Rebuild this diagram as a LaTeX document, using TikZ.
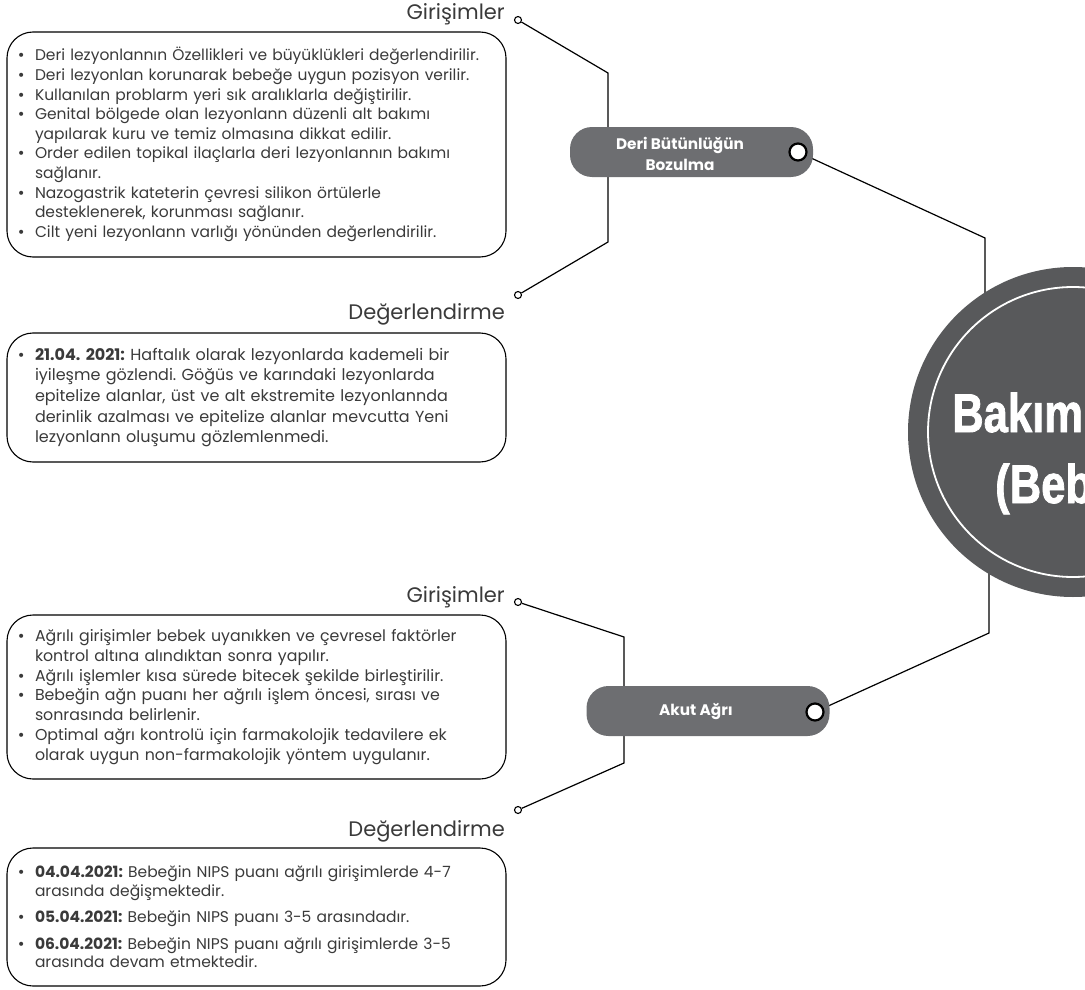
\documentclass[tikz,border=0pt]{standalone}
\usepackage{fontspec}
\usepackage{graphicx}
\setmainfont{Poppins}
\newfontface\heavyfont{Liberation Sans Bold}[FakeBold=1.6]
\newfontfamily\dejavu{DejaVu Sans}
\usetikzlibrary{backgrounds}
\definecolor{boxgray}{HTML}{6D6E71}
\definecolor{maingray}{HTML}{58595B}
\definecolor{txt}{HTML}{3A3A3A}
\newcommand{\bl}{\makebox[18pt][l]{\hspace*{0pt}\raisebox{0pt}{\dejavu\fontsize{14}{14}\selectfont •}}}
\newcommand{\cl}{\hspace*{18pt}}
\frenchspacing
\begin{document}
\begin{tikzpicture}[x=1pt,y=-1pt,
  notebox/.style={draw=black, line width=1.1pt, rounded corners=26pt, inner xsep=10pt, inner ysep=0pt,
    text width=479pt, minimum width=499pt, align=left, text=txt,
    font=\fontsize{15.5}{19.6}\selectfont},
  label/.style={text=txt, inner sep=0pt, font=\fontsize{21}{24}\selectfont},
  topic/.style={fill=boxgray, rounded corners=22pt, minimum width=243pt, minimum height=50pt, inner sep=0pt},
  topictext/.style={text=white, align=center, inner sep=0pt, font=\bfseries\fontsize{15.3}{21}\selectfont},
  bigdot/.style={circle, fill=white, draw=black, line width=2.2pt, minimum size=17pt, inner sep=0pt},
  smalldot/.style={circle, fill=white, draw=black, line width=1.1pt, minimum size=7pt, inner sep=0pt},
  conn/.style={draw=black, line width=1.2pt},
  maintext/.style={text=white, inner sep=0pt, anchor=base west}
]
\useasboundingbox (0,0) rectangle (1085,990);
\clip (0,0) rectangle (1085,990);

% central circle
\node[circle, fill=maingray, minimum size=330pt, inner sep=0pt] (main) at (1073,432) {};
\draw[white, line width=1.8pt] (main.center) circle (145pt);
\node[maintext] (t1) at (952,432) {\scalebox{0.8}[1]{\heavyfont\fontsize{54.5}{60}\selectfont Bakım}};
\node[maintext] (t2) at (995,503) {\scalebox{0.8}[1]{\heavyfont\fontsize{54.5}{60}\selectfont (Beb}};

% topic boxes
\node[topic] (deri) at (691.5,152) {};
\node[topictext] (deritext) at (680,154) {Deri Bütünlüğün\\Bozulma};
\node[bigdot] (derid) at (798,152) {};
\node[topic] (akut) at (708,711) {};
\node[topictext] (akuttext) at (696,712) {Akut Ağrı};
\node[bigdot] (akutd) at (815,712) {};

% labels and small dots
\node[label, anchor=east] (lg1) at (505,14) {Girişimler};
\node[smalldot] (g1) at (518,20) {};
\node[label, anchor=east] (ld1) at (505,314) {Değerlendirme};
\node[smalldot] (d1) at (518,295) {};
\node[label, anchor=east] (lg2) at (505,597) {Girişimler};
\node[smalldot] (g2) at (518,602) {};
\node[label, anchor=east] (ld2) at (505,831) {Değerlendirme};
\node[smalldot] (d2) at (518,810) {};

% note boxes
\node[notebox, minimum height=225pt] (box1) at (256.5,144.5) {%
\bl Deri lezyonlannın Özellikleri ve büyüklükleri değerlendirilir.\\
\bl Deri lezyonlan korunarak bebeğe uygun pozisyon verilir.\\
\bl Kullanılan problarm yeri sık aralıklarla değiştirilir.\\
\bl Genital bölgede olan lezyonlann düzenli alt bakımı\\
\cl yapılarak kuru ve temiz olmasına dikkat edilir.\\
\bl Order edilen topikal ilaçlarla deri lezyonlannın bakımı\\
\cl sağlanır.\\
\bl Nazogastrik kateterin çevresi silikon örtülerle\\
\cl desteklenerek, korunması sağlanır.\\
\bl Cilt yeni lezyonlann varlığı yönünden değerlendirilir.};

\node[notebox, minimum height=129pt, font=\fontsize{16}{20.6}\selectfont] (box2) at (256.5,397.5) {%
\bl \textbf{21.04. 2021:} Haftalık olarak lezyonlarda kademeli bir\\
\cl iyileşme gözlendi. Göğüs ve karındaki lezyonlarda\\
\cl epitelize alanlar, üst ve alt ekstremite lezyonlannda\\
\cl derinlik azalması ve epitelize alanlar mevcutta Yeni\\
\cl lezyonlann oluşumu gözlemlenmedi.};

\node[notebox, minimum height=164pt, font=\fontsize{15.8}{19.8}\selectfont] (box3) at (256.5,697) {%
\bl Ağrılı girişimler bebek uyanıkken ve çevresel faktörler\\
\cl kontrol altına alındıktan sonra yapılır.\\
\bl Ağrılı işlemler kısa sürede bitecek şekilde birleştirilir.\\
\bl Bebeğin ağn puanı her ağrılı işlem öncesi, sırası ve\\
\cl sonrasında belirlenir.\\
\bl Optimal ağrı kontrolü için farmakolojik tedavilere ek\\
\cl olarak uygun non-farmakolojik yöntem uygulanır.};

\node[notebox, minimum height=138pt, font=\fontsize{15.5}{18.5}\selectfont] (box4) at (256.5,917) {%
\bl \textbf{04.04.2021:} Bebeğin NIPS puanı ağrılı girişimlerde 4-7\\
\cl arasında değişmektedir.\\[8pt]
\bl \textbf{05.04.2021:} Bebeğin NIPS puanı 3-5 arasındadır.\\[8pt]
\bl \textbf{06.04.2021:} Bebeğin NIPS puanı ağrılı girişimlerde 3-5\\
\cl arasında devam etmektedir.};

% connectors
\coordinate (k1) at (608,73);
\coordinate (k2) at (608,242);
\coordinate (k3) at (985,238);
\coordinate (k3b) at (985,320);
\coordinate (k4) at (624,637);
\coordinate (k5) at (624,763);
\coordinate (k6) at (989,633);
\coordinate (k6b) at (989,550);
\begin{pgfonlayer}{background}
\draw[conn] (g1) -- (k1) -- (k2) -- (d1);
\draw[conn] (derid) -- (k3) -- (k3b);
\draw[conn] (g2) -- (k4) -- (k5) -- (d2);
\draw[conn] (akutd) -- (k6) -- (k6b);
\end{pgfonlayer}
\end{tikzpicture}
\end{document}
